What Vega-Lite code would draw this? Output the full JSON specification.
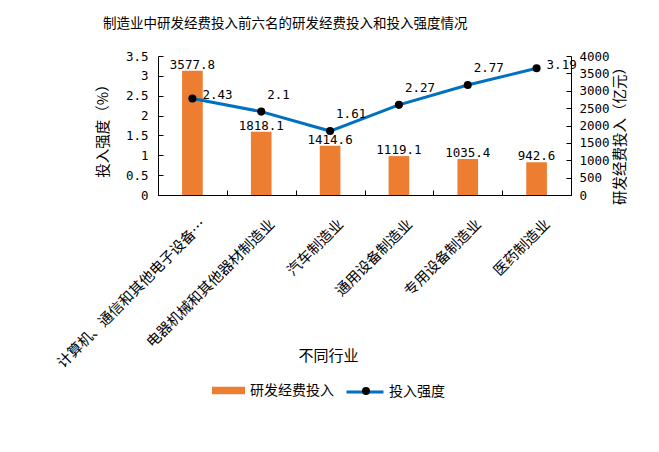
{
  "$schema": "https://vega.github.io/schema/vega-lite/v6.json",
  "width": 413,
  "height": 139,
  "autosize": {"type": "none"},
  "padding": {"left": 158, "top": 56, "right": 88, "bottom": 257},
  "background": "white",
  "title": {
    "text": "制造业中研发经费投入前六名的研发经费投入和投入强度情况",
    "anchor": "start",
    "frame": "group",
    "dx": -55,
    "offset": 20,
    "font": "Noto Sans CJK SC",
    "fontSize": 13.5,
    "fontWeight": "normal",
    "color": "#000000"
  },
  "data": {
    "values": [
      {"industry": "计算机、通信和其他电子设备…", "invest": 3577.8, "intensity": 2.43},
      {"industry": "电器机械和其他器材制造业", "invest": 1818.1, "intensity": 2.1},
      {"industry": "汽车制造业", "invest": 1414.6, "intensity": 1.61},
      {"industry": "通用设备制造业", "invest": 1119.1, "intensity": 2.27},
      {"industry": "专用设备制造业", "invest": 1035.4, "intensity": 2.77},
      {"industry": "医药制造业", "invest": 942.6, "intensity": 3.19}
    ]
  },
  "encoding": {
    "x": {
      "field": "industry",
      "type": "nominal",
      "sort": null,
      "scale": {"paddingInner": 0, "paddingOuter": 0},
      "axis": {
        "title": "不同行业",
        "titleFont": "Noto Sans CJK SC",
        "titleFontSize": 15,
        "titleFontWeight": "normal",
        "titleColor": "#000000",
        "titleX": 170,
        "titleY": 160,
        "titleBaseline": "middle",
        "labelAngle": -45,
        "labelAlign": "right",
        "labelBaseline": "top",
        "labelFont": "Noto Sans CJK SC",
        "labelFontSize": 14.5,
        "labelColor": "#000000",
        "labelPadding": 27,
        "labelOffset": 6,
        "labelLimit": 400,
        "tickBand": "extent",
        "tickSize": -5,
        "tickColor": "#000000",
        "domainColor": "#000000"
      }
    }
  },
  "layer": [
    {
      "encoding": {
        "y": {
          "field": "invest",
          "type": "quantitative",
          "scale": {"domain": [0, 4000], "nice": false},
          "axis": {
            "orient": "right",
            "values": [0, 500, 1000, 1500, 2000, 2500, 3000, 3500, 4000],
            "format": "d",
            "grid": false,
            "title": "研发经费投入（亿元）",
            "titleFont": "Noto Sans CJK SC",
            "titleFontSize": 14.5,
            "titleFontWeight": "normal",
            "titleColor": "#000000",
            "titleAngle": 270,
            "titleBaseline": "middle",
            "titleX": 49,
            "titleY": 76,
            "labelFont": "DejaVu Sans Mono",
            "labelFontSize": 12.5,
            "labelColor": "#000000",
            "labelPadding": 13,
            "tickSize": -5,
            "tickColor": "#000000",
            "domainColor": "#000000"
          }
        }
      },
      "layer": [
        {
          "mark": {"type": "bar", "width": {"band": 0.3}},
          "encoding": {
            "fill": {
              "datum": "研发经费投入",
              "type": "nominal",
              "scale": {"range": ["#ED7D31"]},
              "legend": {
                "orient": "none",
                "legendX": 54,
                "legendY": 318,
                "title": null,
                "padding": 0,
                "symbolType": "M-1,-0.22H1V0.22H-1Z",
                "symbolSize": 1089,
                "symbolStrokeWidth": 0,
                "labelFont": "Noto Sans CJK SC",
                "labelFontSize": 14,
                "labelColor": "#000000",
                "labelOffset": 5
              }
            }
          }
        },
        {
          "mark": {"type": "text", "baseline": "bottom", "dy": 1, "font": "DejaVu Sans Mono", "fontSize": 12.5, "color": "#000000"},
          "encoding": {
            "text": {"field": "invest", "type": "quantitative", "format": ".1f"}
          }
        }
      ]
    },
    {
      "encoding": {
        "y": {
          "field": "intensity",
          "type": "quantitative",
          "scale": {"domain": [0, 3.5], "nice": false},
          "axis": {
            "orient": "left",
            "values": [0, 0.5, 1, 1.5, 2, 2.5, 3, 3.5],
            "format": ".1~f",
            "grid": false,
            "title": "投入强度（%）",
            "titleFont": "Noto Sans CJK SC",
            "titleFontSize": 14.5,
            "titleFontWeight": "normal",
            "titleColor": "#000000",
            "titleAngle": 270,
            "titleBaseline": "middle",
            "titleX": -55,
            "titleY": 71,
            "labelFont": "DejaVu Sans Mono",
            "labelFontSize": 12.5,
            "labelColor": "#000000",
            "labelPadding": 15,
            "tickSize": -5,
            "tickColor": "#000000",
            "domainColor": "#000000"
          }
        }
      },
      "layer": [
        {
          "mark": {"type": "line", "strokeWidth": 3},
          "encoding": {
            "stroke": {
              "datum": "投入强度",
              "type": "nominal",
              "scale": {"range": ["#0070C0"]},
              "legend": {
                "orient": "none",
                "legendX": 187,
                "legendY": 316,
                "title": null,
                "padding": 0,
                "symbolType": "M-1,0H1",
                "symbolSize": 1369,
                "symbolStrokeWidth": 3,
                "labelFont": "Noto Sans CJK SC",
                "labelFontSize": 14,
                "labelColor": "#000000",
                "labelOffset": 4
              }
            }
          }
        },
        {
          "mark": {"type": "point", "filled": true, "color": "#000000", "size": 65, "opacity": 1},
          "encoding": {
            "shape": {
              "datum": "marker",
              "type": "nominal",
              "scale": {"range": ["circle"]},
              "legend": {
                "orient": "none",
                "legendX": 201,
                "legendY": 328,
                "title": null,
                "padding": 0,
                "symbolSize": 65,
                "symbolFillColor": "#000000",
                "symbolStrokeColor": "#000000",
                "symbolStrokeWidth": 0,
                "labelExpr": "''",
                "labelFontSize": 14
              }
            }
          }
        },
        {
          "transform": [{"filter": {"field": "industry", "oneOf": ["计算机、通信和其他电子设备…", "医药制造业"]}}],
          "mark": {"type": "text", "align": "left", "baseline": "middle", "dx": 10, "dy": -3, "font": "DejaVu Sans Mono", "fontSize": 12.5, "color": "#000000"},
          "encoding": {"text": {"field": "intensity", "type": "quantitative"}}
        },
        {
          "transform": [{"filter": {"field": "industry", "oneOf": ["电器机械和其他器材制造业", "汽车制造业", "通用设备制造业", "专用设备制造业"]}}],
          "mark": {"type": "text", "align": "left", "baseline": "middle", "dx": 6, "dy": -17, "font": "DejaVu Sans Mono", "fontSize": 12.5, "color": "#000000"},
          "encoding": {"text": {"field": "intensity", "type": "quantitative"}}
        }
      ]
    }
  ],
  "resolve": {"scale": {"y": "independent"}},
  "config": {
    "view": {"stroke": null},
    "axis": {"grid": false}
  }
}
